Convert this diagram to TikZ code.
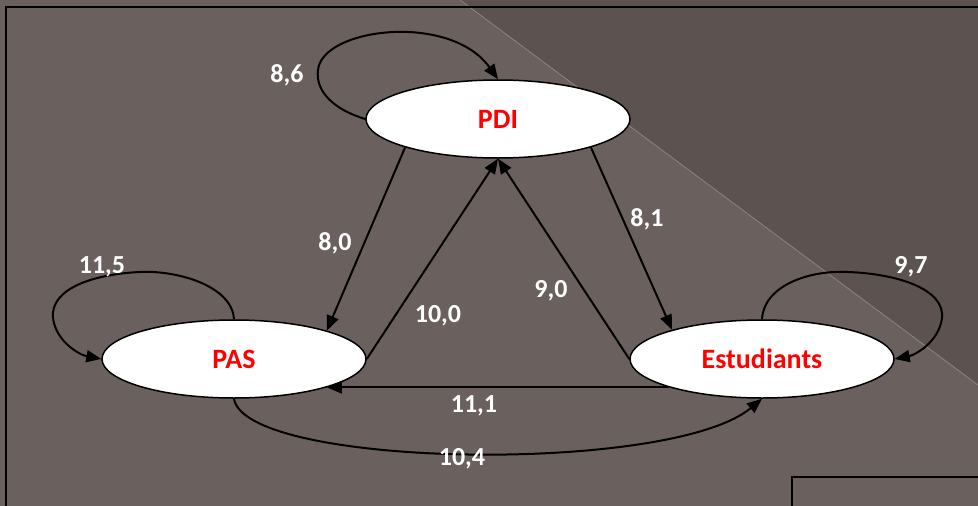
\documentclass[tikz,border=0pt]{standalone}
\usepackage{fontspec}
\setmainfont{Carlito}
\usetikzlibrary{arrows.meta,shapes.geometric}
\definecolor{bglow}{RGB}{106,97,95}
\definecolor{bghigh}{RGB}{92,83,81}
\definecolor{diagline}{RGB}{140,132,130}
\definecolor{nodered}{RGB}{255,0,0}
\begin{document}
\begin{tikzpicture}[x=1pt,y=-1pt,
 state/.style={ellipse,draw=black,line width=1.5pt,fill=white,minimum width=264pt,minimum height=78pt,inner sep=0pt,text=nodered,font=\fontsize{28}{30}\selectfont\bfseries},
 wlabel/.style={text=white,font=\fontsize{26}{28}\selectfont\bfseries,inner sep=0pt,anchor=base},
 edge/.style={draw=black,line width=2pt,-{Triangle[length=15pt,width=12pt]}},
 framestyle/.style={draw=black,line width=1.5pt}]
\useasboundingbox (0,0) rectangle (978,506);
\fill[bglow] (0,0) rectangle (978,506);
\fill[bghigh] (460,0) -- (978,0) -- (978,385) -- cycle;
\draw[diagline,line width=0.8pt] (460,0) -- (978,385);
\draw[framestyle] (6,507) -- (6,7) -- (979,7);
\draw[framestyle] (792,507) -- (792,477) -- (979,477);

\node[state] (PDI) at (498,119) {PDI};
\node[state] (PAS) at (234,359) {PAS};
\node[state] (EST) at (762,359) {Estudiants};

\draw[edge] (PDI.197) -- (PAS.17);
\draw[edge] (PAS.east) -- (PDI.south);
\draw[edge] (EST.west) -- (PDI.south);
\draw[edge] (PDI.343) -- (EST.162.5);
\draw[edge] (EST.197) -- (PAS.343);
\draw[edge] (PAS.south) .. controls (245,468) and (670,475) .. (EST.south);

\draw[edge] (PDI.west) .. controls (335,110) and (315,92) .. (318,70)
  .. controls (322,28) and (450,12) .. (PDI.north);
\draw[edge] (PAS.north) .. controls (232,285) and (175,270) .. (140,272)
  .. controls (95,274) and (50,288) .. (53,318)
  .. controls (56,342) and (80,355) .. (PAS.west);
\draw[edge] (EST.north) .. controls (764,285) and (810,270) .. (848,272)
  .. controls (900,274) and (945,290) .. (942,318)
  .. controls (939,342) and (915,355) .. (EST.east);

\node[wlabel] (l86) at (287,82) {8,6};
\node[wlabel] (l80) at (335,250) {8,0};
\node[wlabel] (l115) at (102,273) {11,5};
\node[wlabel] (l100) at (438,322) {10,0};
\node[wlabel] (l111) at (474,412) {11,1};
\node[wlabel] (l104) at (462,465) {10,4};
\node[wlabel] (l90) at (551,297) {9,0};
\node[wlabel] (l81) at (647,226) {8,1};
\node[wlabel] (l97) at (911,273) {9,7};
\end{tikzpicture}
\end{document}
